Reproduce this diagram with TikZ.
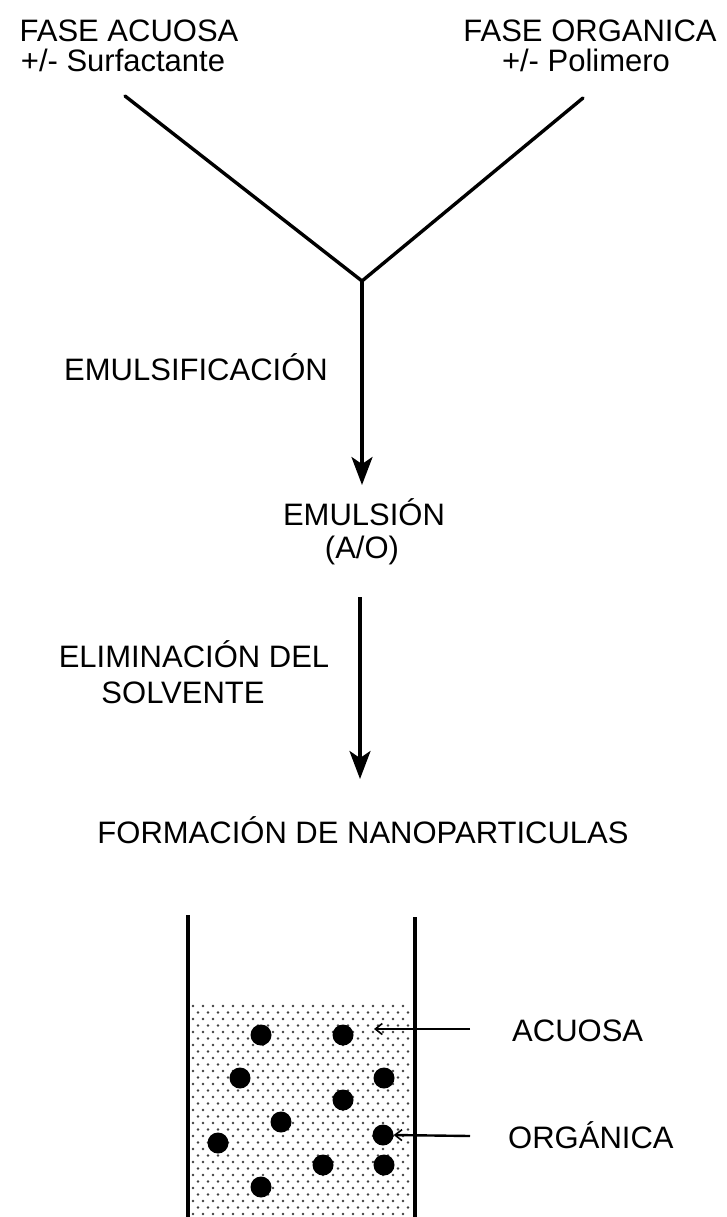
\documentclass[tikz,border=0pt]{standalone}
\usepackage{fontspec}
\setmainfont{Liberation Sans}
\usetikzlibrary{arrows.meta}
\begin{document}
\begin{tikzpicture}[x=1pt,y=-1pt,
  lbl/.style={inner sep=0pt,anchor=base,font=\fontsize{31}{30}\selectfont},
  lbll/.style={lbl,anchor=base west},
  thick line/.style={line width=3.4pt,line cap=round,line join=round},
  bigarrow/.style={line width=3.2pt,-{Stealth[length=28pt,width=21pt,inset=7pt]}},
  smallarrow/.style={line width=2.4pt,-{Straight Barb[length=7pt,width=11pt,line width=1.6pt]}},
  wall/.style={line width=3.2pt},
  particle/.style={circle,fill=black,minimum size=21pt,inner sep=0pt},
  dot/.style={fill=black!75}]
\useasboundingbox (0,0) rectangle (726,1217);
\fill[white] (0,0) rectangle (726,1217);

% top labels
\node[lbl] (aq1) at (129,42) {FASE ACUOSA};
\node[lbl] (aq2) at (123,72) {+/- Surfactante};
\node[lbl] (or1) at (590,42) {FASE ORGANICA};
\node[lbl] (or2) at (586,72) {+/- Polimero};

% V
\coordinate (vl) at (125,96);
\coordinate (vr) at (583,98);
\coordinate (v) at (362,281);
\draw[thick line] (vl) -- (v) -- (vr);

% first arrow
\coordinate (t1) at (362,485);
\draw[bigarrow] (v) -- (t1);
\node[lbl] (emsf) at (196,380) {EMULSIFICACIÓN};
\node[lbl] (em1) at (364,525) {EMULSIÓN};
\node[lbl] (em2) at (362,558) {(A/O)};

% second arrow
\coordinate (s2) at (360,597);
\coordinate (t2) at (360,779);
\draw[bigarrow] (s2) -- (t2);
\node[lbl] (el1) at (194,667) {ELIMINACIÓN DEL};
\node[lbl] (el2) at (183,703) {SOLVENTE};
\node[lbl] (form) at (363,843) {FORMACIÓN DE NANOPARTICULAS};

% dotted liquid
\foreach \r in {0,...,32} {
  \pgfmathsetmacro\yy{1006+6.5*\r}
  \pgfmathsetmacro\xo{193+5*mod(\r,2)}
  \foreach \c in {0,...,21} {
    \fill[dot] (\xo+10*\c,\yy) circle (1.35);
  }
}

% beaker
\draw[wall] (188,915) -- (188,1217);
\draw[wall] (415,917) -- (415,1217);

% particles
\node[particle] (p1) at (261,1035) {};
\node[particle] (p2) at (343,1035) {};
\node[particle] (p3) at (240,1078) {};
\node[particle] (p4) at (384,1078) {};
\node[particle] (p5) at (343,1100) {};
\node[particle] (p6) at (281,1122) {};
\node[particle] (p7) at (383,1135) {};
\node[particle] (p8) at (218,1143) {};
\node[particle] (p9) at (323,1165) {};
\node[particle] (p10) at (384,1165) {};
\node[particle] (p11) at (261,1187) {};

% side labels
\node[lbll] (acu) at (512,1041) {ACUOSA};
\node[lbll] (org) at (508,1148) {ORGÁNICA};
\coordinate (a1s) at (470,1029);
\coordinate (a1e) at (374,1029);
\coordinate (a2s) at (470,1136);
\draw[smallarrow] (a1s) -- (a1e);
\draw[smallarrow] (a2s) -- (p7.east);
\end{tikzpicture}
\end{document}
